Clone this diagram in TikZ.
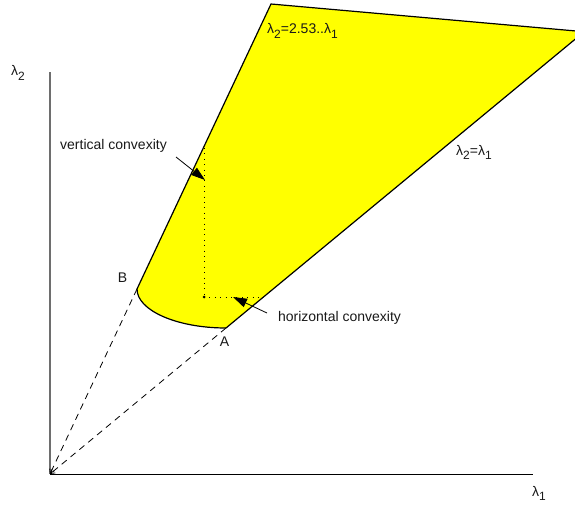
\documentclass[tikz,border=0pt]{standalone}
\usepackage{fontspec}
\setmainfont{Liberation Sans}
\usetikzlibrary{arrows.meta}
\newcommand{\lsub}[1]{\raisebox{-0.32em}{\fontsize{12}{12}\selectfont #1}}
\definecolor{fillyellow}{RGB}{255,255,0}
\definecolor{axisgray}{RGB}{110,110,110}
\tikzset{
  lbl/.style={inner sep=0pt, font=\fontsize{14}{16}\selectfont, text=black!90},
  bound/.style={line width=1.2pt, black},
  guide/.style={line width=0.8pt, dash pattern=on 6.5pt off 5pt, -{Straight Barb[length=4pt,width=5pt]}},
  dotline/.style={line width=0.9pt, dash pattern=on 0.9pt off 4.5pt},
  pointer/.style={line width=0.8pt, -{Triangle[length=14pt,width=9pt]}},
}
\begin{document}
\begin{tikzpicture}[x=1pt,y=-1pt]
\useasboundingbox (0,0) rectangle (575,508);
% key points
\coordinate (O) at (50,474);
\coordinate (A) at (226,328);
\coordinate (B) at (137,289);
\coordinate (T1) at (271,4);
\coordinate (T2) at (576,31);
\coordinate (T3) at (576,38.5);
% region
\fill[fillyellow] (B) -- (T1) -- (T2) -- (T3) -- (A)
  .. controls (177,328) and (137,310.5) .. (B) -- cycle;
\draw[bound] (B) -- (T1) -- (T2);
\draw[bound] (T3) -- (A);
\draw[bound] (A) .. controls (177,328) and (137,310.5) .. (B);
% axes
\coordinate (Ytop) at (50,72);
\coordinate (Xend) at (533,474);
\draw[line width=1.3pt, axisgray] (O) -- (Ytop);
\draw[line width=1pt, black] (O) -- (Xend);
% dashed guides to origin
\draw[guide] (A) -- (O);
\draw[guide] (B) -- (O);
% dotted convexity lines
\coordinate (V1) at (204,148);
\coordinate (P) at (204,297);
\coordinate (H1) at (261,297);
\draw[dotline] (V1) -- (P);
\draw[dotline] (P) -- (H1);
\fill (P) circle (1.5);
% pointers
\coordinate (vs) at (176,157);
\coordinate (ve) at (205,180);
\draw[pointer] (vs) -- (ve);
\coordinate (hs) at (267,313);
\coordinate (he) at (233,297);
\draw[pointer] (hs) -- (he);
% labels
\node[lbl] (vc) at (113.5,146) {vertical convexity};
\node[lbl] (hc) at (339.5,318) {horizontal convexity};
\node[lbl] (lB) at (122.5,278) {B};
\node[lbl] (lA) at (224.5,341.5) {A};
\node[lbl, anchor=base west] (l1) at (267,34) {λ\lsub{2}=2.53..λ\lsub{1}};
\node[lbl, anchor=base west] (l2) at (456,155) {λ\lsub{2}=λ\lsub{1}};
\node[lbl, anchor=base west] (ay) at (11,76) {λ\lsub{2}};
\node[lbl, anchor=base west] (ax) at (532,496) {λ\lsub{1}};
\end{tikzpicture}
\end{document}
